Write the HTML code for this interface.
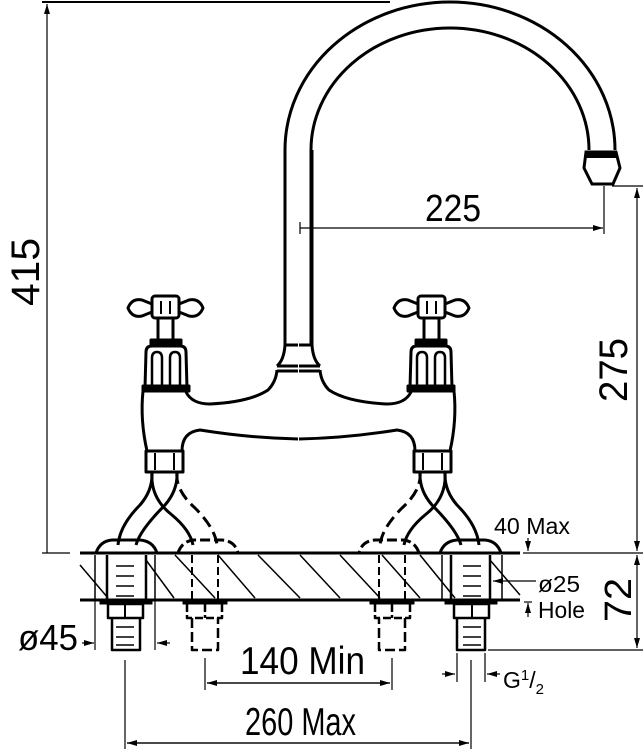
<!DOCTYPE html>
<html><head><meta charset="utf-8"><style>
html,body{margin:0;padding:0;background:#fff}
svg{display:block}
text{font-family:"Liberation Sans",sans-serif;fill:#000}
</style></head><body>
<svg width="643" height="751" viewBox="0 0 643 751" xmlns="http://www.w3.org/2000/svg">
<defs>
<marker id="ar" markerWidth="10" markerHeight="6" refX="10" refY="3" orient="auto" markerUnits="userSpaceOnUse">
<path d="M0,0 L10,3 L0,6 z" fill="#000"/></marker>
<g id="half" fill="none" stroke="#000" stroke-width="3" stroke-linejoin="round">
 <path d="M128,308 Q132,298 142,300 L152,304 L152,312 L142,316 Q132,318 128,308 Z"/>
 <path d="M203,308 Q199,298 189,300 L179,304 L179,312 L189,316 Q199,318 203,308 Z"/>
 <rect x="152" y="296" width="27" height="22" rx="3"/>
 <line x1="161" y1="301" x2="161" y2="314" stroke-width="2"/><line x1="170" y1="301" x2="170" y2="314" stroke-width="2"/>
 <path d="M158,318 L158,340 M173,318 L173,340"/>
 <rect x="151" y="340" width="30" height="6" fill="#000"/>
 <path d="M146,352 Q146,346 152,346 L180,346 Q186,346 186,352 L187,388 L145,388 Z"/>
 <path d="M152,388 L152,358 Q152,352 157,352 Q162,352 162,358 L162,388 M170,388 L170,358 Q170,352 175,352 Q180,352 180,358 L180,388" stroke-width="2.5"/>
 <rect x="143" y="386" width="46" height="5" fill="#000"/>
 <path d="M143,391 Q140,420 147,451"/>
 <path d="M186,392 Q192,404 210,404 Q250,402 268,390 Q276,382 277,370"/>
 <path d="M182,451 Q182,432 200,430 Q250,438 298,439"/>
 <path d="M285,150 L285,345 Q284,360 277,366 M277,366 L298,366 M277,371 L298,371 M285,345 L298,345"/>
 <rect x="146" y="451" width="37" height="21"/>
 <line x1="155" y1="453" x2="155" y2="470" stroke-width="2"/><line x1="174" y1="453" x2="174" y2="470" stroke-width="2"/>
 <path d="M152,472 Q153,490 140,505 Q120,525 118,545"/>
 <path d="M177,472 Q178,490 165,505 Q140,530 136,545"/>
 <path d="M152,472 Q150,498 172,515 Q190,530 193,545"/>
 <path d="M177,472 Q175,490 195,508 Q215,528 217,545" stroke-dasharray="12,6"/>
 <path d="M96,553 Q100,541 112,540 L140,540 Q153,541 157,553"/>
 <path d="M178,553 Q182,541 194,540 L222,540 Q235,541 238,553" stroke-dasharray="10,4"/>
 <path d="M107,555 L107,600 M146,555 L146,600" stroke-width="2.5"/>
 <path d="M95,555 L95,600 M155,555 L155,600" stroke-width="1.5"/>
 <rect x="100" y="600" width="52" height="4" fill="#000" stroke-width="1"/>
 <rect x="108" y="604" width="35" height="14" stroke-width="2.5"/>
 <line x1="125" y1="604" x2="125" y2="618" stroke-width="2"/>
 <path d="M112,618 L112,650 L140,650 L140,618" stroke-width="2.5"/>
 <path d="M116,566h18M116,576h18M116,586h18M116,596h18M116,627h18M116,637h18M116,645h18" stroke-width="1.5"/>
 <path d="M192,555 L192,600 M218,555 L218,600" stroke-width="2" stroke-dasharray="8,4"/>
 <rect x="183" y="600" width="44" height="4" fill="#000" stroke-width="1"/>
 <path d="M187,604 L187,618 L222,618 L222,604 M205,604 L205,618" stroke-width="2.5" stroke-dasharray="8,3"/>
 <path d="M192,618 L192,650 L218,650 L218,618" stroke-width="2.5" stroke-dasharray="10,4"/>
</g>
</defs>

<path d="M285,150 A165,148 0 0 1 615,150" fill="none" stroke="#000" stroke-width="3"/>
<path d="M311,150 L311,345 M311,150 A139,122 0 0 1 589,150" fill="none" stroke="#000" stroke-width="3"/>
<path d="M586,152 L616,152 L620,168 L613,184 L592,184 L584,168 Z" fill="none" stroke="#000" stroke-width="3"/>
<rect x="586" y="152" width="30" height="6" fill="#000"/>

<use href="#half"/>
<use href="#half" transform="translate(597,0) scale(-1,1)"/>

<g stroke="#000" fill="none">
<line x1="80" y1="553" x2="520" y2="553" stroke-width="3"/>
<line x1="80" y1="600" x2="520" y2="600" stroke-width="3"/>
<g stroke-width="1.5">
<path d="M80,565 L108,598 M146,560 L174,598 M175,555 L215,598 M218,555 L255,598 M258,555 L300,598 M300,555 L340,598 M340,555 L380,598 M382,555 L420,598 M420,555 L455,598 M490,560 L520,595"/>
</g>
<line x1="42" y1="2" x2="390" y2="2" stroke-width="2"/>
<line x1="47" y1="553" x2="47" y2="4" stroke-width="1.2" marker-end="url(#ar)"/>
<line x1="42" y1="553" x2="70" y2="553" stroke-width="1.2"/>
<line x1="300" y1="228" x2="603" y2="228" stroke-width="1.2" marker-end="url(#ar)"/>
<line x1="300" y1="222" x2="300" y2="234" stroke-width="1.2"/>
<line x1="604" y1="186" x2="604" y2="234" stroke-width="1.2"/>
<line x1="612" y1="186" x2="643" y2="186" stroke-width="1.2"/>
<line x1="637" y1="370" x2="637" y2="188" stroke-width="1.2" marker-end="url(#ar)"/>
<line x1="637" y1="370" x2="637" y2="551" stroke-width="1.2" marker-end="url(#ar)"/>
<line x1="523" y1="553" x2="643" y2="553" stroke-width="1.2"/>
<line x1="637" y1="600" x2="637" y2="555" stroke-width="1.2" marker-end="url(#ar)"/>
<line x1="637" y1="600" x2="637" y2="648" stroke-width="1.2" marker-end="url(#ar)"/>
<line x1="488" y1="650" x2="643" y2="650" stroke-width="1.2"/>
<line x1="528" y1="538" x2="528" y2="551" stroke-width="1.2" marker-end="url(#ar)"/>
<line x1="536" y1="581" x2="493" y2="581" stroke-width="1.2" marker-end="url(#ar)"/>
<line x1="528" y1="617" x2="528" y2="603" stroke-width="1.2" marker-end="url(#ar)"/>
<line x1="524" y1="602" x2="532" y2="602" stroke-width="1.2"/>
<line x1="82" y1="643" x2="94" y2="643" stroke-width="1.2" marker-end="url(#ar)"/>
<line x1="170" y1="643" x2="157" y2="643" stroke-width="1.2" marker-end="url(#ar)"/>
<line x1="155" y1="600" x2="155" y2="650" stroke-width="1.2"/>
<line x1="95" y1="600" x2="95" y2="650" stroke-width="1.2"/>
<line x1="205" y1="658" x2="205" y2="690" stroke-width="1.2"/>
<line x1="392" y1="658" x2="392" y2="690" stroke-width="1.2"/>
<line x1="207" y1="683" x2="390" y2="683" stroke-width="1.2" marker-end="url(#ar)"/>
<line x1="390" y1="683" x2="207" y2="683" stroke-width="1.2" marker-end="url(#ar)"/>
<line x1="125" y1="660" x2="125" y2="749" stroke-width="1.2"/>
<line x1="471" y1="660" x2="471" y2="749" stroke-width="1.2"/>
<line x1="127" y1="743" x2="469" y2="743" stroke-width="1.2" marker-end="url(#ar)"/>
<line x1="469" y1="743" x2="127" y2="743" stroke-width="1.2" marker-end="url(#ar)"/>
<line x1="457" y1="653" x2="457" y2="682" stroke-width="1.2"/>
<line x1="485" y1="653" x2="485" y2="682" stroke-width="1.2"/>
<line x1="442" y1="674" x2="455" y2="674" stroke-width="1.2" marker-end="url(#ar)"/>
<line x1="500" y1="674" x2="487" y2="674" stroke-width="1.2" marker-end="url(#ar)"/>
</g>

<text x="0" y="0" font-size="40" textLength="68" lengthAdjust="spacingAndGlyphs" transform="translate(39,306) rotate(-90)">415</text>
<text x="425" y="221" font-size="38" textLength="56" lengthAdjust="spacingAndGlyphs">225</text>
<text x="0" y="0" font-size="40" textLength="64" lengthAdjust="spacingAndGlyphs" transform="translate(627,402) rotate(-90)">275</text>
<text x="0" y="0" font-size="38" textLength="44" lengthAdjust="spacingAndGlyphs" transform="translate(631,622) rotate(-90)">72</text>
<text x="494" y="534" font-size="23" textLength="76" lengthAdjust="spacingAndGlyphs">40 Max</text>
<text x="538" y="592" font-size="23" textLength="42" lengthAdjust="spacingAndGlyphs">ø25</text>
<text x="538" y="618" font-size="23" textLength="47" lengthAdjust="spacingAndGlyphs">Hole</text>
<text x="18" y="650" font-size="36" textLength="60" lengthAdjust="spacingAndGlyphs">ø45</text>
<text x="240" y="674" font-size="39" textLength="125" lengthAdjust="spacingAndGlyphs">140 Min</text>
<text x="245" y="735" font-size="39" textLength="111" lengthAdjust="spacingAndGlyphs">260 Max</text>
<text x="503" y="688" font-size="23">G<tspan font-size="15" dy="-8">1</tspan><tspan dy="8">/</tspan><tspan font-size="15" dy="6">2</tspan></text>
</svg>
</body></html>
